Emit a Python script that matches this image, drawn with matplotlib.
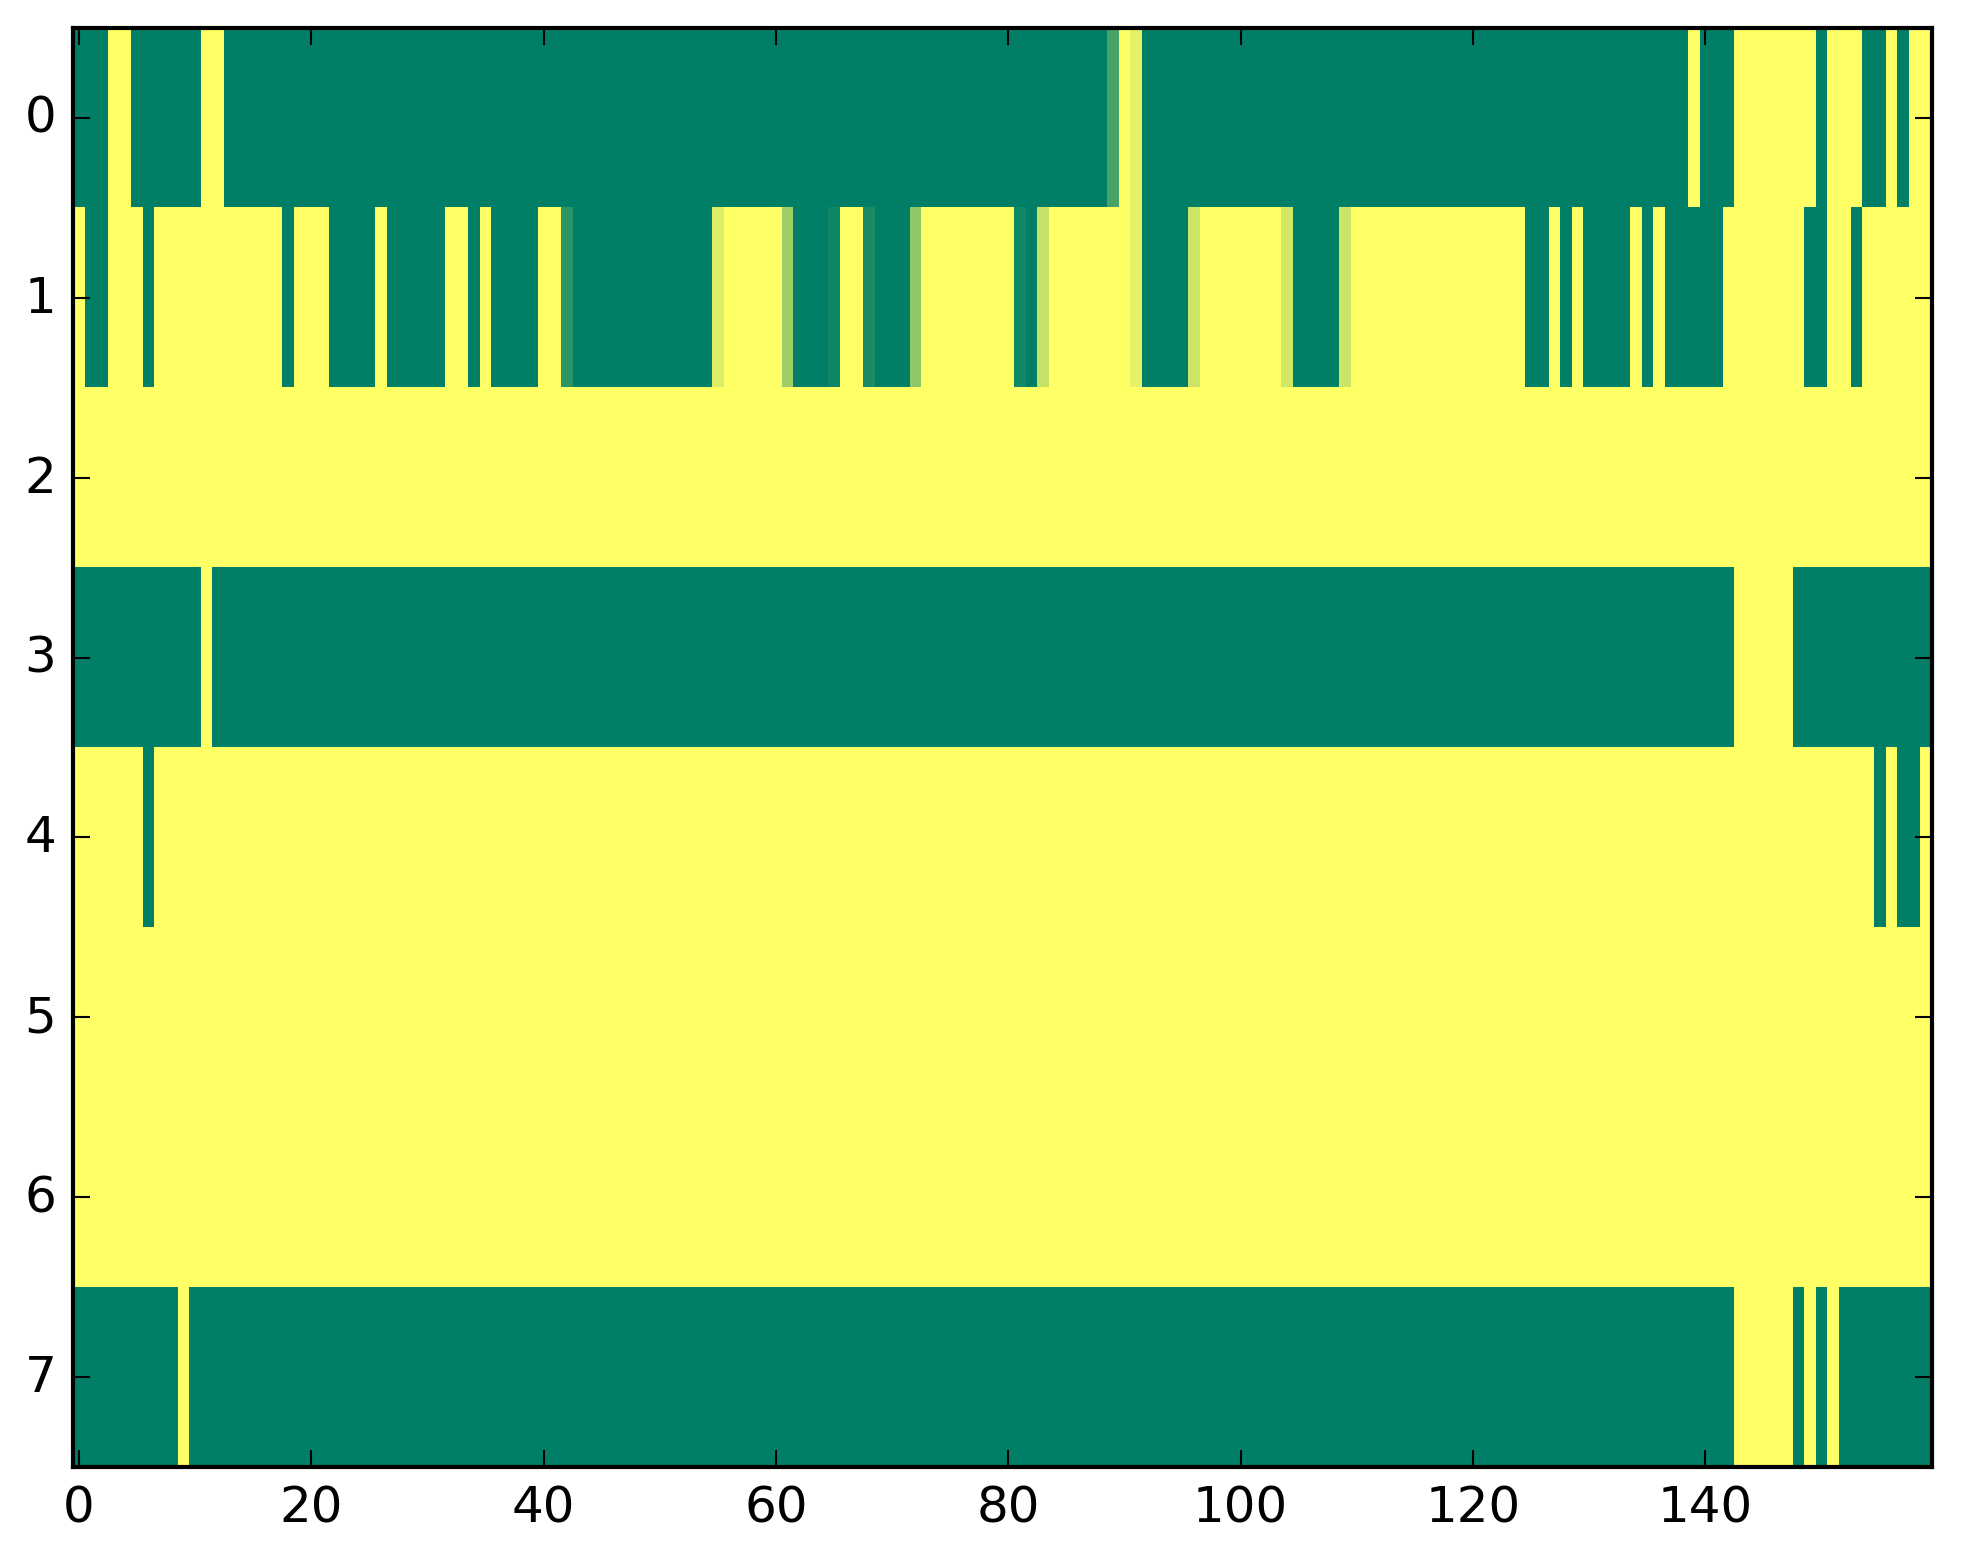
import numpy as np
import matplotlib
matplotlib.use("Agg")
from matplotlib import pyplot as plt

# each row as (run length, value) pairs, 160 columns per row
row0 = [(3, 0), (2, 1), (6, 0), (2, 1), (76, 0), (1, 0.28), (1, 1), (1, 0.9),
        (47, 0), (1, 1), (3, 0), (7, 1), (1, 0), (3, 1), (2, 0), (1, 1), (1, 0), (2, 1)]
row1 = [(1, 1), (2, 0), (3, 1), (1, 0), (11, 1), (1, 0), (3, 1), (4, 0), (1, 1),
        (5, 0), (2, 1), (1, 0), (1, 1), (4, 0), (2, 1), (1, 0.17), (12, 0), (1, 0.86),
        (5, 1), (1, 0.61), (3, 0), (1, 0.06), (2, 1), (1, 0.1), (3, 0), (1, 0.56),
        (8, 1), (1, 0.07), (1, 0), (1, 0.77), (7, 1), (1, 0.9), (4, 0), (1, 0.8),
        (7, 1), (1, 0.82), (4, 0), (1, 0.8), (15, 1), (2, 0), (1, 1), (1, 0), (1, 1),
        (4, 0), (1, 1), (1, 0), (1, 1), (5, 0), (7, 1), (2, 0), (2, 1), (1, 0), (6, 1)]
row2 = [(160, 1)]
row3 = [(11, 0), (1, 1), (131, 0), (5, 1), (12, 0)]
row4 = [(6, 1), (1, 0), (148, 1), (1, 0), (1, 1), (2, 0), (1, 1)]
row5 = [(160, 1)]
row6 = [(160, 1)]
row7 = [(9, 0), (1, 1), (133, 0), (5, 1), (1, 0), (1, 1), (1, 0), (1, 1), (8, 0)]

rows = [row0, row1, row2, row3, row4, row5, row6, row7]


def expand(runs):
    out = []
    for n, v in runs:
        out += [v] * n
    return out


data = np.array([expand(r) for r in rows])

plt.style.use('classic')
plt.rcParams['figure.facecolor'] = 'white'
plt.rcParams['savefig.facecolor'] = 'white'

fig = plt.figure(figsize=(1963 / 300, 1564 / 300))
ax = fig.add_axes([0.0372, 0.0614, 0.9470, 0.9201])
ax.imshow(data, cmap='summer', vmin=0, vmax=1, aspect='auto', interpolation='nearest')
ax.set_xticks(range(0, 160, 20))
ax.set_yticks(range(8))
ax.set_xlim(-0.5, 159.5)
ax.set_ylim(7.5, -0.5)

fig.savefig("out.png", dpi=300)
